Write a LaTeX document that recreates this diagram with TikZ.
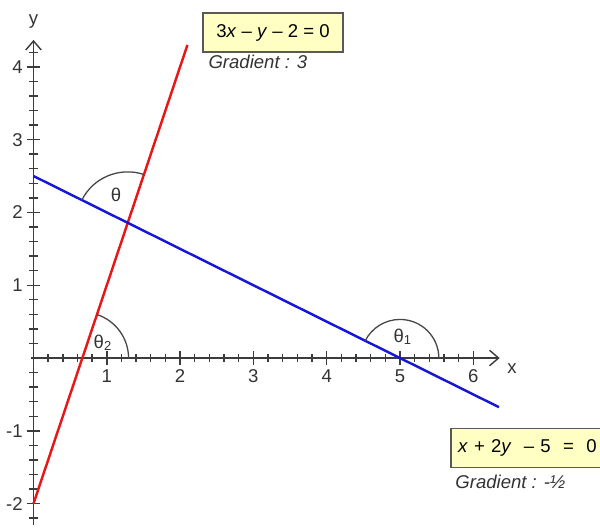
\documentclass[tikz,border=0pt]{standalone}
\usepackage{fontspec}
\setmainfont{Liberation Sans}
\usetikzlibrary{arrows.meta}
\definecolor{lred}{RGB}{232,22,22}
\definecolor{lblue}{RGB}{22,22,215}
\definecolor{boxfill}{RGB}{255,255,195}
\definecolor{axisgray}{RGB}{60,60,60}
\definecolor{arcgray}{RGB}{70,70,70}
\tikzset{
  axisline/.style={draw=axisgray, line width=0.55pt},
  axisarrow/.style={-{Straight Barb[length=3.5pt,width=6pt,line width=0.55pt]}},
  tickmark/.style={draw=axisgray, line width=0.55pt},
  ticklabel/.style={inner sep=0pt, text=black!80},
  graphline/.style={line width=0.95pt},
  anglearc/.style={draw=arcgray, line width=0.5pt},
  eqbox/.style={draw=black!65, fill=boxfill, line width=0.6pt, inner sep=0pt, minimum height=0.53cm},
  gradtext/.style={inner sep=0pt, anchor=west, font=\fontsize{7.2}{8.5}\selectfont\itshape, text=black!80},
  anglelabel/.style={inner sep=0pt, text=black!80}
}
\begin{document}
\begin{tikzpicture}[x=1cm, y=0.9932cm, font=\fontsize{7.2}{8.5}\selectfont]
\useasboundingbox (-0.457,-2.335) rectangle (7.729,4.918);
% axes
\coordinate (xs) at (-0.03,0);
\coordinate (xe) at (6.36,0);
\coordinate (ys) at (0,-2.29);
\coordinate (ye) at (0,4.37);
\draw[axisline, axisarrow] (xs) -- (xe);
\draw[axisline, axisarrow] (ys) -- (ye);
\node[ticklabel] (xlab) at (6.53,-0.15) {x};
\node[ticklabel] (ylab) at (0,4.62) {y};
% x ticks
\foreach \i in {1,...,30} {
  \pgfmathsetmacro{\xx}{\i/5}
  \draw[tickmark] (\xx,-0.055) -- (\xx,0.055);
}
\foreach \i in {1,...,6} {
  \draw[tickmark] (\i,-0.095) -- (\i,0.095);
  \node[ticklabel] (xt\i) at (\i,-0.25) {\i};
}
% y ticks
\foreach \i in {-11,...,-1,1,2,...,21} {
  \pgfmathsetmacro{\yy}{\i/5}
  \draw[tickmark] (-0.055,\yy) -- (0.055,\yy);
}
\foreach \i in {-2,-1,1,2,3,4} {
  \draw[tickmark] (-0.095,\i) -- (0.095,\i);
  \node[ticklabel, anchor=east] (yt\i) at (-0.14,\i) {\i};
}
% lines
\coordinate (ra) at (0,-2);
\coordinate (rb) at (2.1,4.3);
\coordinate (ba) at (0,2.5);
\coordinate (bb) at (6.35,-0.675);
\draw[graphline, lred] (ra) -- (rb);
\draw[graphline, lblue] (ba) -- (bb);
% angle arcs
\coordinate (P1) at (5,0);
\coordinate (P2) at (0.6667,0);
\coordinate (P) at (1.2857,1.8571);
\draw[anglearc] (P1) ++(0:0.53) arc[start angle=0, end angle=153.43, radius=0.53];
\draw[anglearc] (P2) ++(0:0.63) arc[start angle=0, end angle=71.57, radius=0.63];
\draw[anglearc] (P) ++(71.57:0.7) arc[start angle=71.57, end angle=153.43, radius=0.7];
\node[anglelabel] (th1) at (5.04,0.29) {θ\textsubscript{1}};
\node[anglelabel] (th2) at (0.95,0.21) {θ\textsubscript{2}};
\node[anglelabel] (th) at (1.126,2.24) {θ};
% equation boxes
\node[eqbox, minimum width=1.91cm] (eq1) at (3.267,4.471) {3\textit{x} – \textit{y} – 2 = 0};
\node[gradtext] (gr1) at (2.381,4.066) {Gradient : 3};
\node[eqbox, minimum width=3cm, anchor=west, inner xsep=0.095cm, text width=2.8cm, align=left] (eq2) at (5.682,-1.236) {\textit{x} + 2\textit{y} \ – 5 \ = \ 0};
\node[gradtext] (gr2) at (5.75,-1.703) {Gradient : -½};
\end{tikzpicture}
\end{document}
